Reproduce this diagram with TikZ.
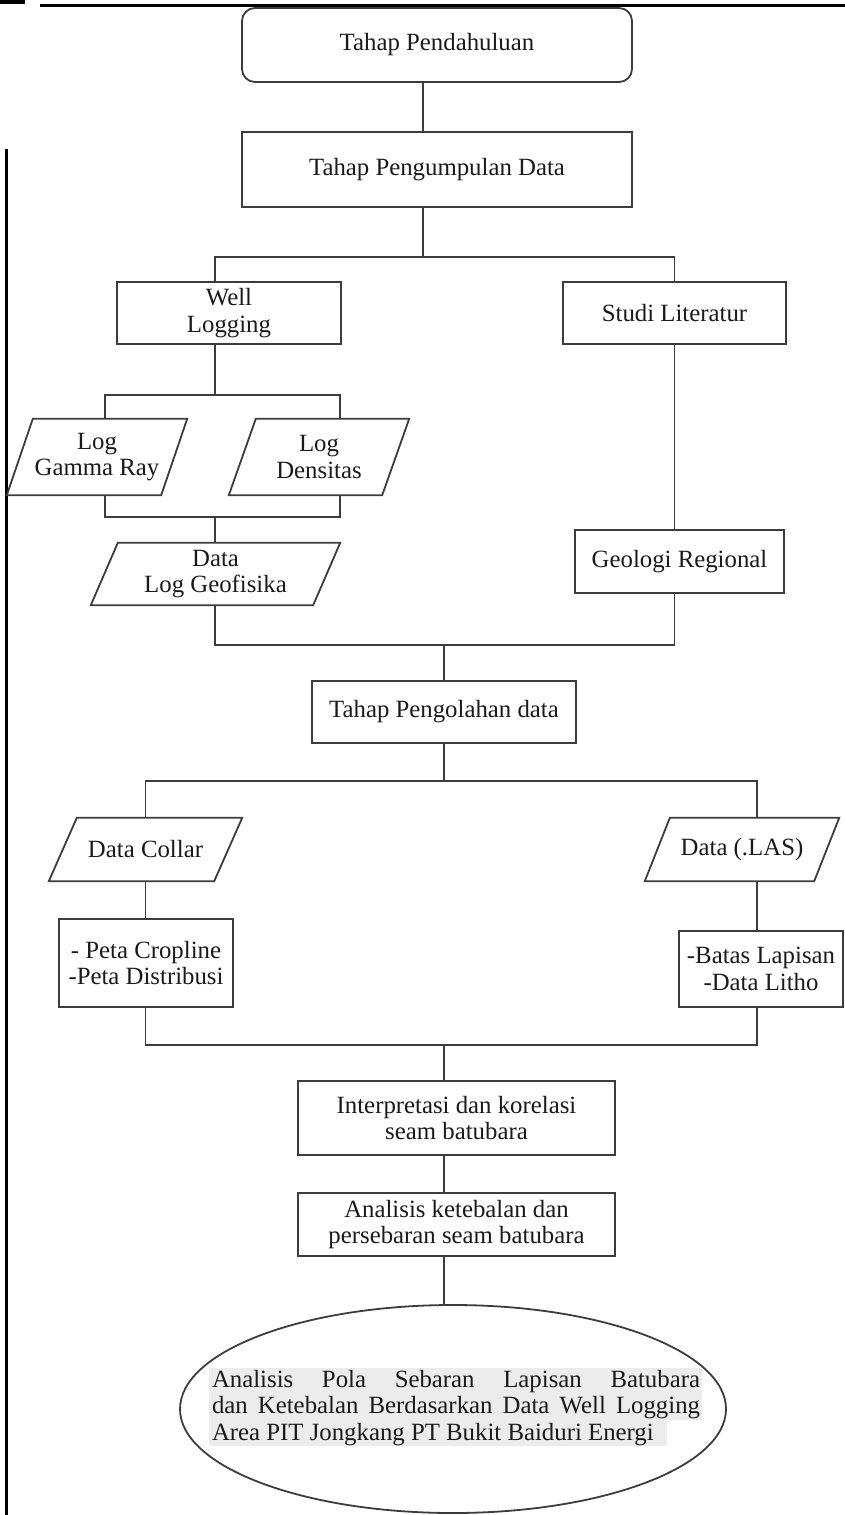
\documentclass[tikz,border=0pt]{standalone}
\usepackage{fontspec}
\setmainfont{Liberation Serif}
\usetikzlibrary{shapes.geometric,calc}
\definecolor{lc}{HTML}{3C3C3C}
\definecolor{tc}{HTML}{1A1A1A}
\definecolor{hl}{HTML}{ECECEC}
\newcommand{\fsz}{\fontsize{24.8pt}{26.5pt}\selectfont}
\begin{document}
\begin{tikzpicture}[x=1pt,y=-1pt,
  box/.style={draw=lc,line width=1.8pt,rectangle,inner sep=0pt,align=center,font=\fsz,text=tc},
  para/.style={rectangle,inner sep=0pt,align=center,font=\fsz,text=tc},
  conn/.style={draw=lc,line width=1.8pt},
  deco/.style={line width=3pt,black}]
\useasboundingbox (0,0) rectangle (845,1515);
% page decoration
\fill[black] (0,0) rectangle (25,4);
\draw[deco] (40,5.5) -- (845,5.5);
\draw[deco] (6,149) -- (6,1515);
% nodes
\node[box,rounded corners=13pt,minimum width=390pt,minimum height=74pt] (pend) at (437,45) {Tahap Pendahuluan};
\node[box,minimum width=390pt,minimum height=75pt] (peng) at (437,169.5) {Tahap Pengumpulan Data};
\node[box,minimum width=224pt,minimum height=62pt] (wl) at (229,313) {Well\\Logging};
\node[box,minimum width=223pt,minimum height=62pt] (sl) at (674.5,313) {Studi Literatur};
\node[para,minimum width=180pt,minimum height=76pt] (gr) at (97,457) {Log\\Gamma Ray};
\node[para,minimum width=180pt,minimum height=76pt] (ld) at (319,457) {Log\\Densitas};
\node[para,minimum width=249pt,minimum height=62pt] (geo) at (215.5,574) {Data\\Log Geofisika};
\node[box,minimum width=209pt,minimum height=63pt] (georeg) at (679.5,561.5) {Geologi Regional};
\node[box,minimum width=264pt,minimum height=62pt] (pol) at (444,712) {Tahap Pengolahan data};
\node[para,minimum width=193pt,minimum height=63pt] (dc) at (145.5,849.5) {Data Collar};
\node[para,minimum width=194pt,minimum height=63pt] (las) at (742,849.5) {Data (.LAS)};
\node[box,minimum width=174pt,minimum height=88pt] (peta) at (146,963) {- Peta Cropline\\-Peta Distribusi};
\node[box,minimum width=164pt,minimum height=76pt] (batas) at (761,969) {-Batas Lapisan\\-Data Litho};
\node[box,minimum width=317pt,minimum height=74pt] (interp) at (456.5,1118) {Interpretasi dan korelasi\\seam batubara};
\node[box,minimum width=317pt,minimum height=63pt] (anal) at (456.5,1224.5) {Analisis ketebalan dan\\persebaran seam batubara};
% parallelogram outlines
\foreach \n/\s in {gr/26,ld/27,geo/27,dc/28,las/25}{
  \draw[conn] ($(\n.north west)+(\s,0)$) -- (\n.north east) -- ($(\n.south east)+(-\s,0)$) -- (\n.south west) -- cycle;
}
% final ellipse
\fill[hl] (209,1368) rectangle (702,1420);
\fill[hl] (209,1420) rectangle (667,1446);
\node[draw=lc,line width=1.8pt,ellipse,minimum width=546pt,minimum height=208pt,inner sep=0pt] (ell) at (453,1409) {};
\node[inner sep=0pt,font=\fsz,text=tc] (etext) at (456,1408) {\parbox{488pt}{\hyphenpenalty=10000\hbadness=10000\tolerance=10000 Analisis Pola Sebaran Lapisan Batubara\linebreak dan Ketebalan Berdasarkan Data Well Logging\linebreak Area PIT Jongkang PT Bukit Baiduri Energi}};
% junction coordinates
\coordinate (j1) at (423,257);
\coordinate (b1L) at (215,257);
\coordinate (b1R) at (674.5,257);
\coordinate (b2) at (215,395);
\coordinate (xL2) at (105,395);
\coordinate (xR2) at (340,395);
\coordinate (b3) at (215,517);
\coordinate (b4) at (444,645);
\coordinate (b4R) at (674.5,645);
\coordinate (b5) at (444,781);
\coordinate (b5R) at (757,781);
\coordinate (b6) at (444,1045);
\coordinate (b6R) at (757,1045);
% connectors
\draw[conn] (pend.south -| j1) -- (peng.north -| j1);
\draw[conn] (peng.south -| j1) -- (j1);
\draw[conn] (wl.north -| b1L) -- (b1L) -- (b1R) -- (sl.north);
\draw[conn] (wl.south -| b1L) -- (b2);
\draw[conn] (gr.north -| xL2) -- (xL2) -- (xR2) -- (ld.north -| xR2);
\draw[conn] (gr.south -| xL2) -- (xL2 |- b3) -- (xR2 |- b3) -- (ld.south -| xR2);
\draw[conn] (b3) -- (geo.north -| b3);
\draw[conn] (sl.south) -- (georeg.north -| sl.south);
\draw[conn] (geo.south -| b3) -- (b3 |- b4) -- (b4R) -- (georeg.south -| b4R);
\draw[conn] (b4) -- (pol.north -| b4);
\draw[conn] (pol.south -| b5) -- (b5);
\draw[conn] (dc.north) -- (dc.north |- b5) -- (b5R) -- (las.north -| b5R);
\draw[conn] (dc.south) -- (peta.north -| dc.south);
\draw[conn] (las.south -| b5R) -- (batas.north -| b5R);
\draw[conn] (peta.south -| dc.south) -- (dc.south |- b6) -- (b6R) -- (batas.south -| b6R);
\draw[conn] (b6) -- (interp.north -| b6);
\draw[conn] (interp.south -| b6) -- (anal.north -| b6);
\draw[conn] (anal.south -| b6) -- (ell.north -| b6);
\end{tikzpicture}
\end{document}
